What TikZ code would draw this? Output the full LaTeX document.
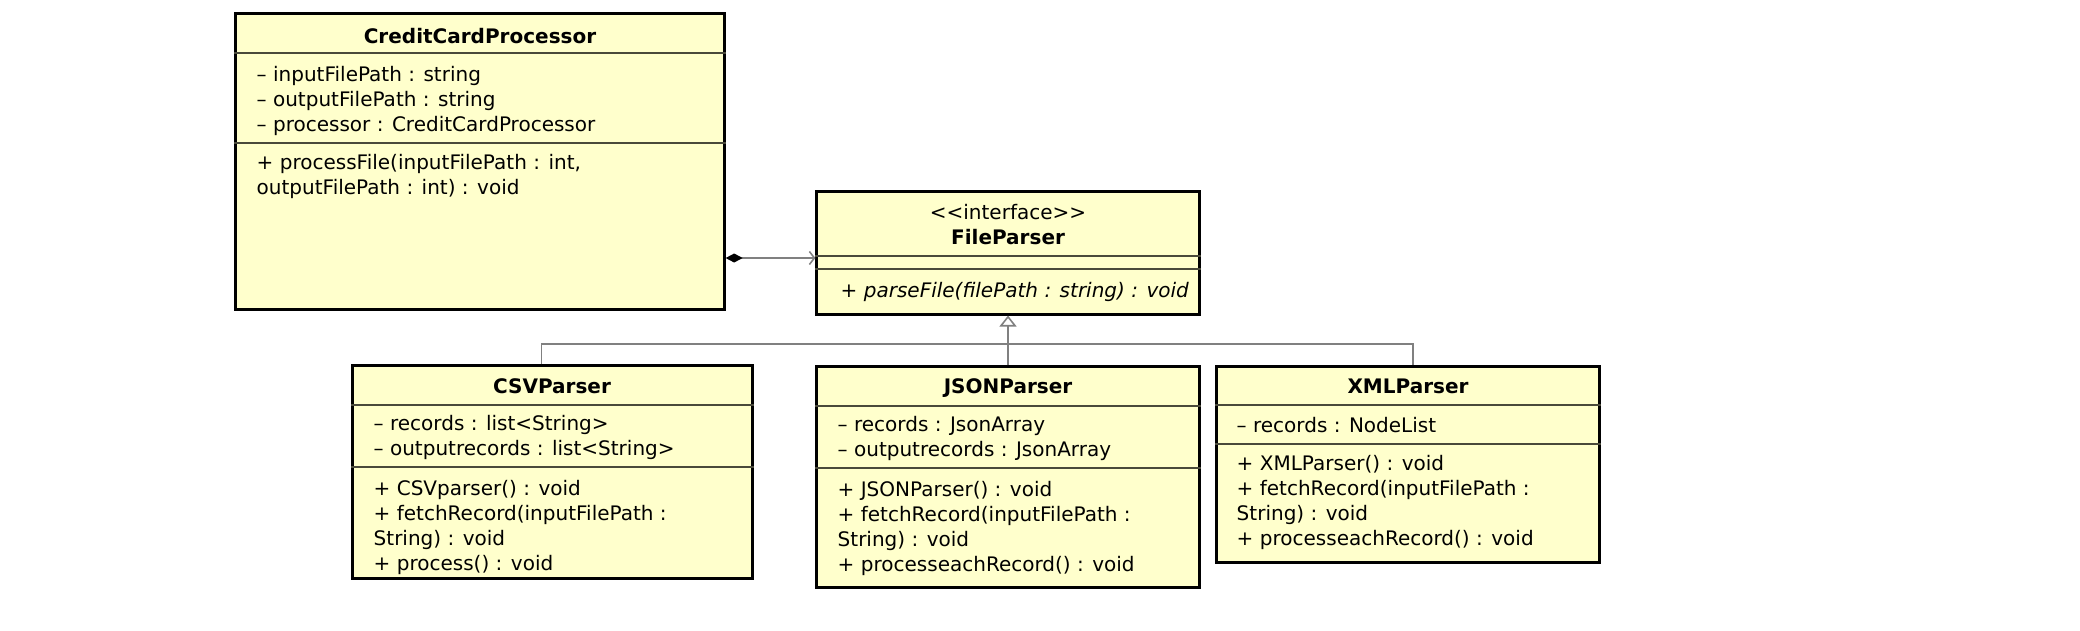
\documentclass[tikz,border=0pt]{standalone}
\usepackage{fontspec}
\newfontfamily\umlfont{DejaVu Sans}
\usetikzlibrary{arrows.meta}
\definecolor{umlfill}{HTML}{FFFFCC}
\definecolor{umlline}{HTML}{808080}
\definecolor{umlsep}{HTML}{4A4A3A}

\begin{document}
\begin{tikzpicture}[x=0.01cm, y=-0.01cm,
    classbox/.style={draw, fill=umlfill, line width=0.85pt, inner sep=0pt},
    classname/.style={anchor=base, inner sep=0pt, font=\umlfont\bfseries\fontsize{5.69}{7.11}\selectfont},
    stereo/.style={anchor=base, inner sep=0pt, font=\umlfont\fontsize{5.69}{7.11}\selectfont},
    member/.style={anchor=north west, align=left, inner sep=0pt, font=\umlfont\fontsize{5.69}{7.11}\selectfont},
    sepline/.style={draw=umlsep, line width=0.3pt},
    link/.style={draw=umlline, line width=0.45pt},
    compo/.style={link, {Diamond[length=0.17cm,width=0.09cm,color=black]}-{Straight Barb[length=0.05cm,width=0.13cm]}},
    generalize/.style={link, -{Triangle[open,length=0.11cm,width=0.17cm,fill=white]}}]
   \useasboundingbox (0,0) rectangle (2080,630);

   % class boxes
   \node[classbox, minimum width=4.88cm, minimum height=2.95cm] (CCP) at (480,161.5) {};
   \node[classbox, minimum width=3.82cm, minimum height=1.22cm] (FP) at (1008,253) {};
   \node[classbox, minimum width=3.99cm, minimum height=2.12cm] (CSV) at (552.5,472) {};
   \node[classbox, minimum width=3.82cm, minimum height=2.20cm] (JSON) at (1008,477) {};
   \node[classbox, minimum width=3.82cm, minimum height=1.95cm] (XML) at (1408,464.5) {};

   % compartments
   \draw[sepline] (CCP.west |- 0,53) -- (CCP.east |- 0,53);
   \draw[sepline] (CCP.west |- 0,143) -- (CCP.east |- 0,143);
   \draw[sepline] (FP.west |- 0,256) -- (FP.east |- 0,256);
   \draw[sepline] (FP.west |- 0,269) -- (FP.east |- 0,269);
   \draw[sepline] (CSV.west |- 0,405) -- (CSV.east |- 0,405);
   \draw[sepline] (CSV.west |- 0,467) -- (CSV.east |- 0,467);
   \draw[sepline] (JSON.west |- 0,406) -- (JSON.east |- 0,406);
   \draw[sepline] (JSON.west |- 0,468) -- (JSON.east |- 0,468);
   \draw[sepline] (XML.west |- 0,405) -- (XML.east |- 0,405);
   \draw[sepline] (XML.west |- 0,444) -- (XML.east |- 0,444);

   % CreditCardProcessor
   \node[classname] (ccpName) at (480,43) {CreditCardProcessor};
   \node[member] (ccpAttr) at (256,66) {– inputFilePath : string\\– outputFilePath : string\\– processor : CreditCardProcessor};
   \node[member] (ccpOps) at (256,154) {+ processFile(inputFilePath : int,\\outputFilePath : int) : void};

   % FileParser
   \node[stereo] (fpStereo) at (1008,219) {<<interface>>};
   \node[classname] (fpName) at (1008,244) {FileParser};
   \node[member, anchor=base west, font=\umlfont\itshape\fontsize{5.69}{7.11}\selectfont] (fpOps) at (840,297) {+ parseFile(filePath : string) : void};

   % CSVParser
   \node[classname] (csvName) at (552,393) {CSVParser};
   \node[member] (csvAttr) at (373,415) {– records : list<String>\\– outputrecords : list<String>};
   \node[member] (csvOps) at (373,480) {+ CSVparser() : void\\+ fetchRecord(inputFilePath :\\String) : void\\+ process() : void};

   % JSONParser
   \node[classname] (jsonName) at (1008,393) {JSONParser};
   \node[member] (jsonAttr) at (837,416) {– records : JsonArray\\– outputrecords : JsonArray};
   \node[member] (jsonOps) at (837,481) {+ JSONParser() : void\\+ fetchRecord(inputFilePath :\\String) : void\\+ processeachRecord() : void};

   % XMLParser
   \node[classname] (xmlName) at (1408,393) {XMLParser};
   \node[member] (xmlAttr) at (1236,417) {– records : NodeList};
   \node[member] (xmlOps) at (1236,455) {+ XMLParser() : void\\+ fetchRecord(inputFilePath :\\String) : void\\+ processeachRecord() : void};

   % relations
   \coordinate (bus) at (1008,344);
   \draw[compo] (CCP.east |- 0,258) -- (FP.west |- 0,258);
   \draw[generalize] (JSON.north) -- (FP.south);
   \draw[link] ([xshift=-0.11cm]CSV.north) |- (bus) -| ([xshift=0.05cm]XML.north);
 \end{tikzpicture}
\end{document}
